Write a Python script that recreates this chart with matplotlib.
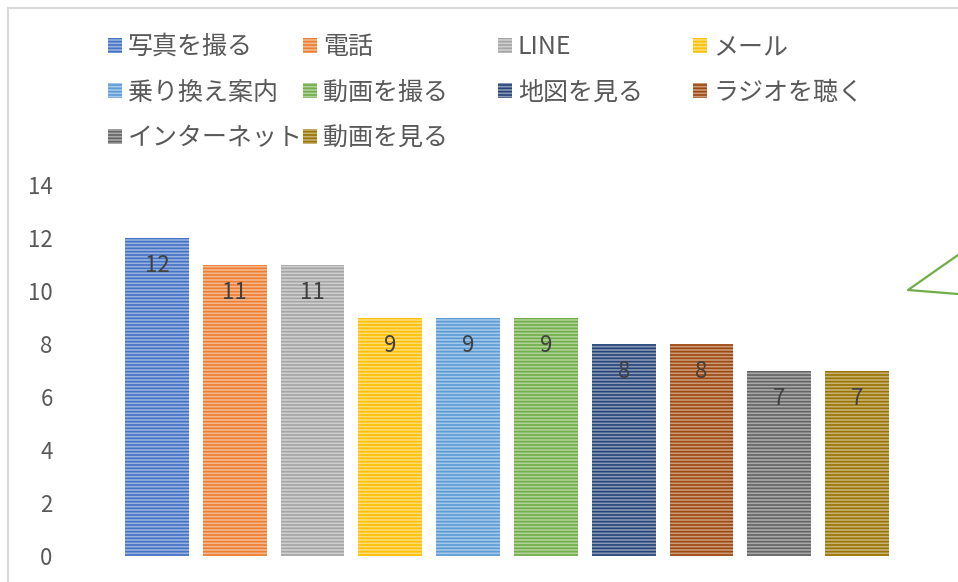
import numpy as np
import matplotlib
matplotlib.use("Agg")
import matplotlib.pyplot as plt
from matplotlib.patches import Rectangle
from matplotlib.lines import Line2D
from matplotlib.colors import to_rgb

plt.rcParams['font.family'] = ['Noto Sans CJK JP', 'DejaVu Sans']
plt.rcParams['hatch.linewidth'] = 1.2

# データ
labels = ['写真を撮る', '電話', 'LINE', 'メール', '乗り換え案内', '動画を撮る',
          '地図を見る', 'ラジオを聴く', 'インターネット', '動画を見る']
values = [12, 11, 11, 9, 9, 9, 8, 8, 7, 7]
colors = ['#4472C4', '#ED7D31', '#A5A5A5', '#FFC000', '#5B9BD5', '#70AD47',
          '#264478', '#9E480E', '#636363', '#997300']
yticks = [0, 2, 4, 6, 8, 10, 12, 14]

TXT = '#595959'


def lighten(c, f=0.45):
    r, g, b = to_rgb(c)
    return (r + (1 - r) * f, g + (1 - g) * f, b + (1 - b) * f)


W, H = 958, 582
fig = plt.figure(figsize=(W / 100, H / 100), dpi=100)
ax = fig.add_axes([118 / W, (H - 556) / H, (896 - 118) / W, (556 - 185) / H])

x = np.arange(len(values))
bars = ax.bar(x, values, width=0.82, color=[lighten(c) for c in colors],
              edgecolor=colors, linewidth=0, hatch='-----')

for xi, v in zip(x, values):
    ax.annotate(str(v), (xi, v), xytext=(0, -20), textcoords='offset points',
                ha='center', va='center', fontsize=16, color='#404040')

ax.set_xlim(-0.5, len(values) - 0.5)
ax.set_ylim(0, 14)
ax.set_yticks(yticks)
ax.set_xticks([])
ax.tick_params(axis='y', length=0, pad=47, labelsize=16, labelcolor=TXT)
for s in ax.spines.values():
    s.set_visible(False)

# 凡例 (4列)
for col in range(4):
    idx = list(range(col, len(labels), 4))
    hs = [bars[i] for i in idx]
    fig.legend(hs, [labels[i] for i in idx], loc='upper left',
               bbox_to_anchor=((108 + 195 * col) / W, 1 - 34 / H),
               frameon=False, fontsize=18, labelcolor=TXT,
               handlelength=0.55, handleheight=0.55, handletextpad=0.25,
               labelspacing=0.78, borderaxespad=0, borderpad=0)

# 枠線
fig.add_artist(Rectangle((8 / W, -0.1), 1.2, 1.1 - 8 / H, transform=fig.transFigure,
                         fill=False, edgecolor='#D9D9D9', linewidth=1.5))

# 吹き出しの一部
fig.add_artist(Line2D([1.0, 908 / W, 1.0], [1 - 255 / H, 1 - 290 / H, 1 - 294 / H],
                      transform=fig.transFigure, color='#70AD47', linewidth=1.6))

fig.savefig('out.png', dpi=100)
